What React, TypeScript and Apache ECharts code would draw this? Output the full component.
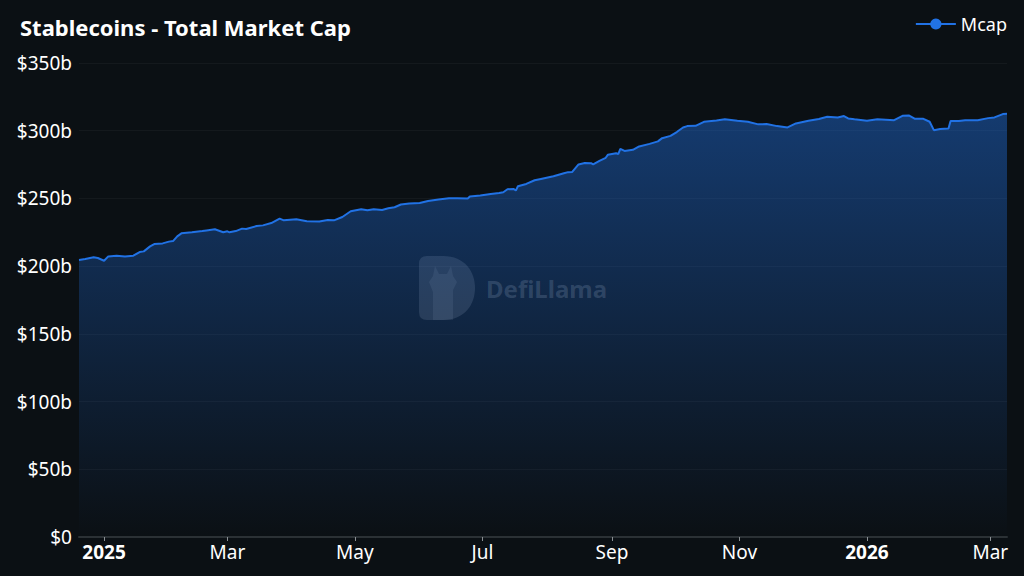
import React, { useEffect, useRef } from "react";
import * as echarts from "echarts";

const dates = [
  "2024-12-20","2024-12-23","2024-12-27","2024-12-29","2025-01-01","2025-01-03","2025-01-07","2025-01-11","2025-01-15","2025-01-18",
  "2025-01-20","2025-01-23","2025-01-25","2025-01-29","2025-02-01","2025-02-03","2025-02-05","2025-02-07","2025-02-12","2025-02-17",
  "2025-02-19","2025-02-23","2025-02-27","2025-03-01","2025-03-02","2025-03-05","2025-03-08","2025-03-10","2025-03-15","2025-03-18",
  "2025-03-22","2025-03-26","2025-03-28","2025-04-03","2025-04-08","2025-04-14","2025-04-18","2025-04-21","2025-04-25","2025-04-29",
  "2025-05-04","2025-05-07","2025-05-10","2025-05-14","2025-05-17","2025-05-20","2025-05-23","2025-05-27","2025-06-01","2025-06-05",
  "2025-06-10","2025-06-15","2025-06-19","2025-06-24","2025-06-25","2025-06-30","2025-07-05","2025-07-09","2025-07-11","2025-07-13",
  "2025-07-16","2025-07-17","2025-07-18","2025-07-22","2025-07-26","2025-07-29","2025-08-04","2025-08-09","2025-08-11","2025-08-13",
  "2025-08-16","2025-08-19","2025-08-22","2025-08-23","2025-08-26","2025-08-29","2025-08-30","2025-09-03","2025-09-04","2025-09-05",
  "2025-09-07","2025-09-11","2025-09-14","2025-09-19","2025-09-23","2025-09-25","2025-09-29","2025-10-02","2025-10-05","2025-10-07",
  "2025-10-11","2025-10-15","2025-10-21","2025-10-25","2025-10-31","2025-11-05","2025-11-10","2025-11-14","2025-11-19","2025-11-24",
  "2025-11-28","2025-12-04","2025-12-09","2025-12-13","2025-12-18","2025-12-21","2025-12-23","2025-12-26","2026-01-01","2026-01-06",
  "2026-01-14","2026-01-18","2026-01-21","2026-01-24","2026-01-28","2026-01-31","2026-02-02","2026-02-05","2026-02-09","2026-02-10",
  "2026-02-14","2026-02-17","2026-02-23","2026-02-28","2026-03-03","2026-03-07","2026-03-09"
];

const mcap = [
  204.6,205.2,206.5,206.0,204.0,207.2,207.7,207.2,207.7,210.4,
  210.9,214.6,216.3,216.8,218.1,218.5,222.0,224.2,225.0,225.9,
  226.4,227.2,225.0,225.7,225.0,225.9,227.7,227.4,229.6,230.1,
  231.8,235.1,233.8,234.6,233.1,232.9,234.1,233.8,236.3,240.5,
  242.0,241.2,242.0,241.5,242.7,243.5,245.5,246.2,246.6,248.1,
  249.2,250.1,250.1,249.9,251.4,252.1,253.3,254.0,254.6,256.8,
  257.0,255.8,259.0,260.7,263.4,264.4,266.4,268.6,269.4,269.6,
  275.1,276.2,276.0,275.1,277.7,280.0,282.2,283.4,282.7,286.6,
  285.1,285.9,288.4,290.3,292.1,294.5,296.2,299.0,302.4,303.4,
  303.6,306.6,307.6,308.4,307.3,306.6,304.7,304.9,303.4,302.4,
  305.4,307.3,308.6,310.3,309.8,310.8,309.1,308.4,307.3,308.4,
  307.8,311.0,311.3,308.8,308.8,306.6,300.4,301.2,301.7,307.1,
  307.1,307.8,307.8,309.3,309.8,312.3,312.5
];

const xTickDates = ["2025-01-01","2025-03-01","2025-05-01","2025-07-01","2025-09-01","2025-11-01","2026-01-01","2026-03-01"];
const monthNames = ["Jan","Feb","Mar","Apr","May","Jun","Jul","Aug","Sep","Oct","Nov","Dec"];
const yTicks = [0, 50, 100, 150, 200, 250, 300, 350];

const toTs = (s: string) => {
  const [y, m, d] = s.split("-").map(Number);
  return Date.UTC(y, m - 1, d);
};

const FONT = "'Noto Sans', 'Open Sans', sans-serif";
const D_PATH = "M8,0 L24,0 C46,0 56,16 56,32 C56,48 46,64 24,64 L8,64 Q0,64 0,56 L0,8 Q0,0 8,0 Z";

let registered = false;

export default function App() {
  const ref = useRef<HTMLDivElement>(null);

  useEffect(() => {
    if (!ref.current) return;
    if (!registered) {
      echarts.graphic.registerShape("llamaD", echarts.graphic.extendPath(D_PATH, {}) as any);
      registered = true;
    }

    const chart = echarts.init(ref.current, undefined, { renderer: "svg" });
    const seriesData = dates.map((d, i) => [toTs(d), mcap[i]]);
    const tickTs = xTickDates.map(toTs);

    chart.setOption({
      animation: false,
      backgroundColor: "#0b1014",
      title: {
        text: "Stablecoins - Total Market Cap",
        left: 15,
        top: 11,
        textStyle: { color: "#ffffff", fontSize: 22, fontWeight: "bold", fontFamily: FONT },
      },
      legend: {
        right: 12,
        top: 10,
        itemWidth: 40,
        itemHeight: 14,
        itemGap: 6,
        textStyle: { color: "#ffffff", fontSize: 18, fontFamily: FONT },
        data: [{ name: "Mcap" }],
      },
      grid: { left: 79, right: 17, top: 63, bottom: 39, containLabel: false },
      graphic: [
        {
          type: "group",
          left: 419,
          top: 256,
          silent: true,
          z: 1,
          children: [
            { type: "llamaD", x: 0, y: 0, scaleX: 1, scaleY: 1, style: { fill: "rgba(255,255,255,0.13)" } },
            {
              type: "polygon",
              shape: {
                points: [
                  [14, 64], [14, 36], [10, 26], [14, 20], [16, 10], [20, 18], [28, 18], [32, 10], [34, 20], [38, 26], [34, 34], [34, 64],
                ],
              },
              style: { fill: "rgba(255,255,255,0.08)" },
            },
          ],
        },
        {
          type: "text",
          left: 486,
          top: 276,
          silent: true,
          z: 1,
          style: {
            text: "DefiLlama",
            fill: "rgba(255,255,255,0.17)",
            font: `bold 24px ${FONT}`,
          },
        },
      ],
      xAxis: {
        type: "value",
        min: toTs(dates[0]),
        max: toTs(dates[dates.length - 1]),
        axisLine: { show: true, lineStyle: { color: "#2b3135", width: 2 } },
        axisTick: {
          show: true,
          customValues: tickTs,
          length: 4,
          lineStyle: { color: "#8a8f93" },
        },
        splitLine: { show: false },
        axisLabel: {
          customValues: tickTs,
          showMinLabel: true,
          showMaxLabel: true,
          color: "#ffffff",
          fontSize: 19,
          fontFamily: FONT,
          margin: 5,
          formatter: (val: number) => {
            const d = new Date(val);
            if (d.getUTCMonth() === 0) return `{b|${d.getUTCFullYear()}}`;
            return monthNames[d.getUTCMonth()];
          },
          rich: {
            b: { fontWeight: "bold", fontSize: 19, color: "#ffffff", fontFamily: FONT },
          },
        },
      },
      yAxis: {
        type: "value",
        min: 0,
        max: 350,
        interval: 50,
        axisLine: { show: false },
        axisTick: { show: false },
        splitLine: { show: true, lineStyle: { color: "rgba(255,255,255,0.04)" } },
        axisLabel: {
          color: "#ffffff",
          fontSize: 19,
          fontFamily: FONT,
          margin: 7,
          formatter: (v: number) => (yTicks.includes(v) ? `$${v === 0 ? "0" : v + "b"}` : ""),
        },
      },
      series: [
        {
          name: "Mcap",
          type: "line",
          data: seriesData,
          symbol: "circle",
          symbolSize: 14,
          showSymbol: false,
          z: 3,
          itemStyle: { color: "#2172e5" },
          lineStyle: { color: "#2172e5", width: 2 },
          areaStyle: {
            color: new echarts.graphic.LinearGradient(0, 0, 0, 1, [
              { offset: 0, color: "rgba(33,114,229,0.62)" },
              { offset: 1, color: "rgba(33,114,229,0.0)" },
            ]),
          },
        },
      ],
    });

    return () => chart.dispose();
  }, []);

  return <div ref={ref} style={{ width: 1024, height: 576, position: "absolute", left: 0, top: 0 }} />;
}
